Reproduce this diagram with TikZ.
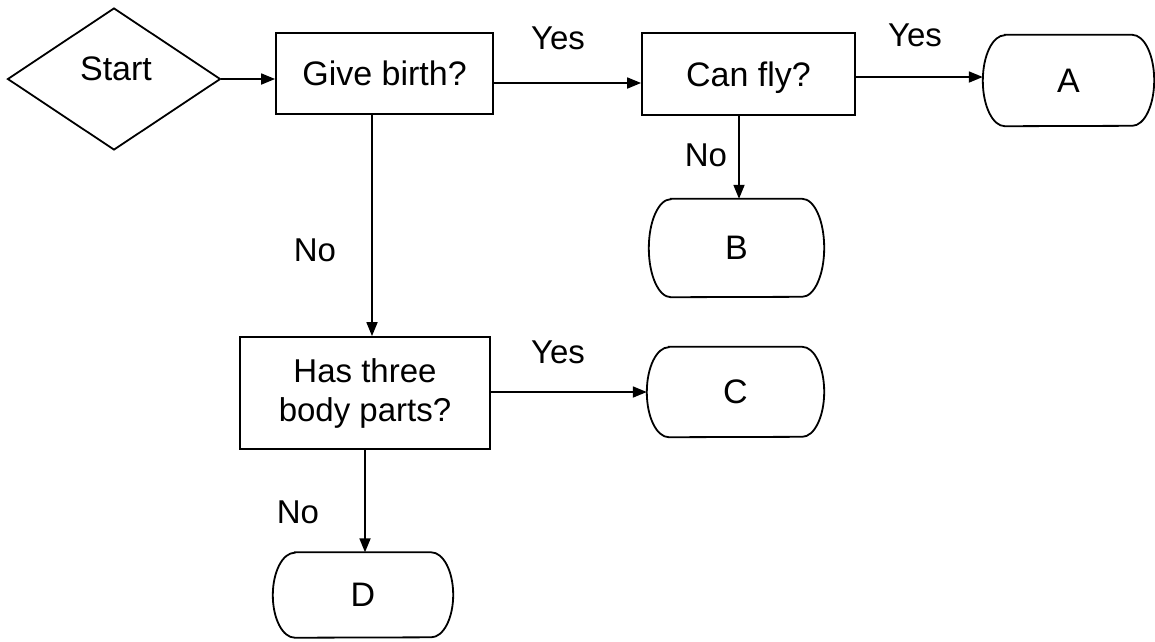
\documentclass[tikz,border=0pt]{standalone}
\usepackage{fontspec}
\setmainfont{Liberation Sans}
\usetikzlibrary{shapes.geometric,arrows.meta}
\begin{document}
\begin{tikzpicture}[x=1pt,y=-1pt,
  every node/.style={font=\fontsize{34}{38}\selectfont, inner sep=0pt},
  line/.style={line width=1.8pt, black},
  box/.style={draw, line, rectangle, align=center},
  termbox/.style={rectangle, font=\fontsize{34}{38}\selectfont, text depth=0pt},
  lbl/.style={font=\fontsize{33}{38}\selectfont},
  arr/.style={line, -{Triangle[length=14pt,width=11pt]}}
]
\useasboundingbox (0,0) rectangle (1155,641);

% decision / process nodes
\node[diamond, draw, line, minimum width=213pt, minimum height=142pt] (start) at (114,79) {};
\node (starttxt) at (116,69) {Start};
\node[box, text depth=0pt, minimum width=217pt, minimum height=81pt] (give) at (384.5,73.5) {Give birth?};
\node[box, text depth=0pt, minimum width=213pt, minimum height=82pt] (canfly) at (748.5,74) {Can fly?};
\node[box, minimum width=250pt, minimum height=112pt, font=\fontsize{33}{39}\selectfont] (has) at (365,393) {Has three\\body parts?};

% terminal nodes
\node[termbox, minimum width=171pt, minimum height=91pt] (A) at (1068.5,80.5) {A};
\node[termbox, minimum width=175pt, minimum height=98pt] (B) at (736.5,248) {B};
\node[termbox, minimum width=177pt, minimum height=90pt] (C) at (735.5,392) {C};
\node[termbox, minimum width=180pt, minimum height=85pt] (D) at (363,595) {D};

\foreach \n/\r in {A/45.5,B/49,C/45,D/42.5}{
  \draw[line] ([xshift=22pt]\n.north west) -- ([xshift=-22pt]\n.north east)
    arc[start angle=90,end angle=-90,x radius=22pt,y radius=\r pt]
    -- ([xshift=22pt]\n.south west)
    arc[start angle=270,end angle=90,x radius=22pt,y radius=\r pt] -- cycle;
}

% connectors
\draw[arr] (start.east) -- (start.east -| give.west);
\coordinate (g1) at ([yshift=-9.5pt]give.east);
\draw[arr] (g1) -- (g1 -| canfly.west);
\coordinate (c1) at ([yshift=-3pt]canfly.east);
\draw[arr] (c1) -- (c1 -| A.west);
\coordinate (c2) at ([xshift=-9.5pt]canfly.south);
\draw[arr] (c2) -- (c2 |- B.north);
\coordinate (g2) at ([xshift=-12.5pt]give.south);
\draw[arr] (g2) -- (g2 |- has.north);
\draw[arr] (has.east |- C.west) -- (C.west);
\coordinate (h1) at (has.south);
\draw[arr] (h1) -- (h1 |- D.north);

% labels
\node[lbl] (yes1) at (558,38) {Yes};
\node[lbl] (yes2) at (915,35) {Yes};
\node[lbl] (no1) at (706,155) {No};
\node[lbl] (no2) at (315,250) {No};
\node[lbl] (yes3) at (558,352) {Yes};
\node[lbl] (no3) at (298,512) {No};
\end{tikzpicture}
\end{document}
